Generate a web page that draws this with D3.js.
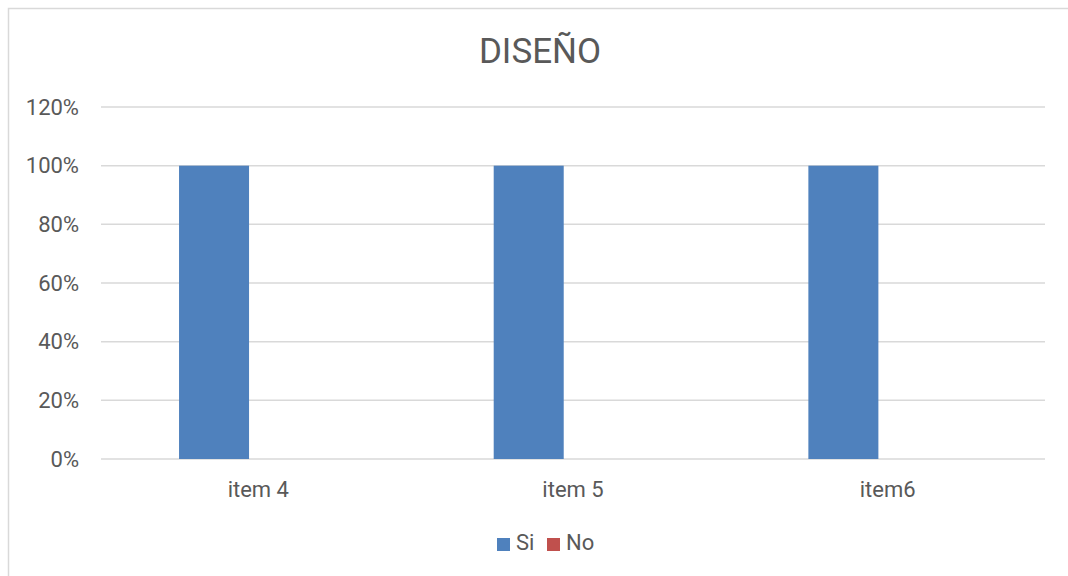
<!DOCTYPE html>
<html>
<head>
<meta charset="utf-8">
<script src="https://cdn.jsdelivr.net/npm/d3@7"></script>
<style>
  html, body { margin: 0; padding: 0; background: #fff; }
  svg { display: block; font-family: Roboto, "Noto Sans", sans-serif; }
</style>
</head>
<body>
<div id="chart"></div>
<script>
const categories = ["item 4", "item 5", "item6"];
const series = ["Si", "No"];
const siValues = [1, 1, 1];
const noValues = [0, 0, 0];
const yTicks = [0, 0.2, 0.4, 0.6, 0.8, 1.0, 1.2];
const title = "DISEÑO";

const width = 1068, height = 576;
const colors = { Si: "#4f81bd", No: "#c0504d" };

const svg = d3.select("#chart")
  .append("svg")
  .attr("width", width)
  .attr("height", height);

// chart frame
svg.append("rect")
  .attr("x", 8.5).attr("y", 8.5)
  .attr("width", width + 10).attr("height", height + 10)
  .attr("fill", "#fff")
  .attr("stroke", "#d9d9d9")
  .attr("stroke-width", 1.5);

const x = d3.scaleBand().domain(categories).range([101, 1045]);
const bw = x.bandwidth();
const xSub = d3.scaleBand().domain(series).range([bw * 0.248, bw * 0.693]);
const y = d3.scaleLinear().domain([0, 1.2]).range([459, 107]);

// gridlines
svg.append("g")
  .selectAll("line")
  .data(yTicks)
  .join("line")
  .attr("x1", 101).attr("x2", 1045)
  .attr("y1", d => y(d)).attr("y2", d => y(d))
  .attr("stroke", "#d9d9d9")
  .attr("stroke-width", 1.5);

// y tick labels
svg.append("g")
  .selectAll("text")
  .data(yTicks)
  .join("text")
  .attr("x", 79)
  .attr("y", d => y(d))
  .attr("dy", "0.35em")
  .attr("text-anchor", "end")
  .attr("font-size", 22)
  .attr("fill", "#595959")
  .text(d => d3.format(".0%")(d));

// bars
const rows = categories.map((c, i) => ({ cat: c, Si: siValues[i], No: noValues[i] }));
svg.append("g")
  .selectAll("g")
  .data(rows)
  .join("g")
  .attr("transform", d => `translate(${x(d.cat)},0)`)
  .selectAll("rect")
  .data(d => series.map(s => ({ s, v: d[s] })))
  .join("rect")
  .attr("x", d => xSub(d.s))
  .attr("width", xSub.bandwidth())
  .attr("y", d => y(d.v))
  .attr("height", d => y(0) - y(d.v))
  .attr("fill", d => colors[d.s]);

// x labels
svg.append("g")
  .selectAll("text")
  .data(categories)
  .join("text")
  .attr("x", d => x(d) + bw / 2)
  .attr("y", 497)
  .attr("text-anchor", "middle")
  .attr("font-size", 22)
  .attr("fill", "#595959")
  .text(d => d);

// title
svg.append("text")
  .attr("x", 540)
  .attr("y", 63)
  .attr("text-anchor", "middle")
  .attr("font-size", 35)
  .attr("fill", "#595959")
  .text(title);

// legend
const legendX = [497, 547];
const legend = svg.append("g")
  .selectAll("g")
  .data(series)
  .join("g")
  .attr("transform", (d, i) => `translate(${legendX[i]},538)`);
legend.append("rect")
  .attr("width", 13).attr("height", 13)
  .attr("fill", d => colors[d]);
legend.append("text")
  .attr("x", 19)
  .attr("y", 12)
  .attr("font-size", 22)
  .attr("fill", "#595959")
  .text(d => d);
</script>
</body>
</html>
